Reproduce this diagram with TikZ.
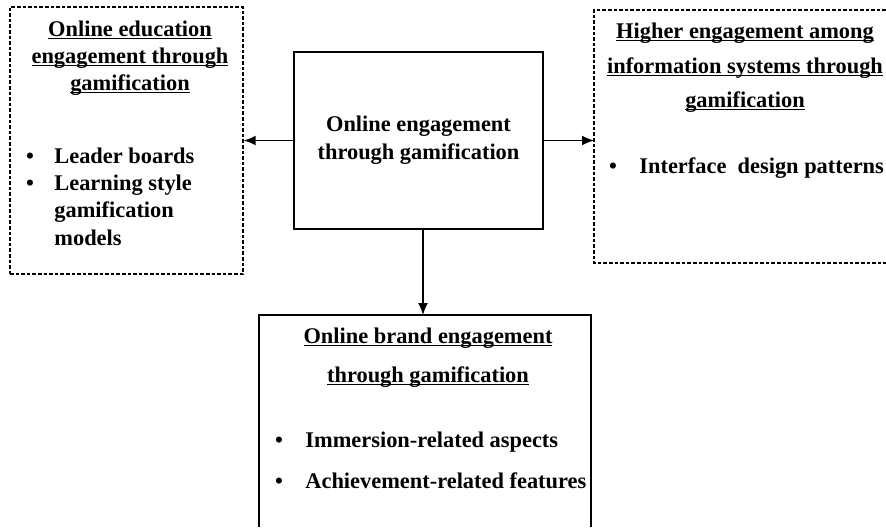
\documentclass[tikz,border=0pt]{standalone}
\usepackage{fontspec}
\setmainfont{Liberation Serif}
\usetikzlibrary{arrows.meta}
\newcommand\ulText[1]{% underlined heading line
  \setbox0\hbox{#1}\rlap{\rule[-1.7pt]{\wd0}{0.7pt}}\box0}

\tikzset{
  txt/.style={inner sep=0pt, anchor=base, font=\fontsize{11.2}{14}\selectfont\bfseries},
  itm/.style={txt, anchor=base west},
  frame/.style={line width=0.85pt},
  dframe/.style={line width=0.7pt, dash pattern=on 1.8pt off 1pt},
  link/.style={line width=0.8pt, -{Latex[length=6pt,width=5pt]}}
}

\begin{document}
\begin{tikzpicture}[x=0.5pt,y=-0.5pt] % one unit = one pixel of the sketch
\useasboundingbox (0,0) rectangle (886,527);

% centre box
\node[frame, draw, minimum width=124.5pt, minimum height=88.5pt, align=center,
      font=\fontsize{11.2}{14}\selectfont\bfseries] (core) at (418.5,140.5)
      {Online engagement\\through gamification};

% left box: education
\node[dframe, draw, minimum width=116.5pt, minimum height=133.5pt] (edu) at (126.5,140.5) {};
\foreach \t [count=\i] in {Online education,engagement through,gamification}
  \node[txt] (edu-t\i) at (130,{9+27*\i}) {\ulText{\t}};
\node[txt] (edu-b1) at (30,163) {\textbullet};
\node[txt] (edu-b2) at (30,190) {\textbullet};
\node[itm] (edu-i1) at (54,163) {Leader boards};
\node[itm] (edu-i2) at (54,190) {Learning style};
\node[itm] (edu-i3) at (54,217) {gamification};
\node[itm] (edu-i4) at (54,245) {models};

% right box: information systems (runs off the page)
\draw[dframe] (886,10) -- (594,10) -- (594,263) -- (886,263);
\coordinate (isys) at (594,138);
\node[txt] (isys-t1) at (745,38) {\ulText{Higher engagement among}};
\node[txt] (isys-t2) at (745,73) {\ulText{information systems through}};
\node[txt] (isys-t3) at (745,107) {\ulText{gamification}};
\node[txt] (isys-b1) at (613,173) {\textbullet};
\node[itm] (isys-i1) at (639,173) {Interface\ \ design patterns};

% bottom box: brand (runs off the page)
\draw[frame] (259,527) -- (259,315) -- (591,315) -- (591,527);
\coordinate (brand) at (423,315);
\node[txt] (brand-t1) at (428,343) {\ulText{Online brand engagement}};
\node[txt] (brand-t2) at (428,382) {\ulText{through gamification}};
\node[txt] (brand-b1) at (279,447) {\textbullet};
\node[txt] (brand-b2) at (279,488) {\textbullet};
\node[itm] (brand-i1) at (305,447) {Immersion-related aspects};
\node[itm] (brand-i2) at (305,488) {Achievement-related features};

% arrows
\draw[link] (core.west) -- (edu.east);
\draw[link] (core.east) -- (core.east -| isys);
\draw[link] (core.south -| brand) -- (brand);
\end{tikzpicture}
\end{document}
